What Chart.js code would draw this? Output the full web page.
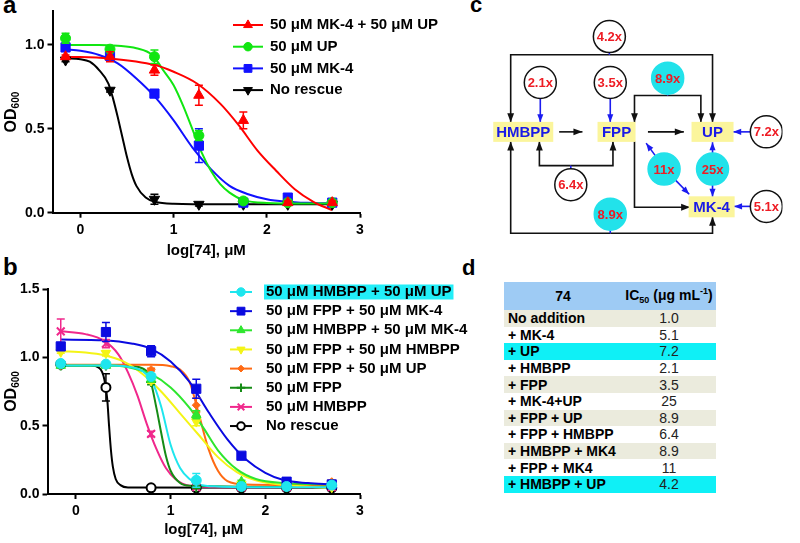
<!DOCTYPE html>
<html>
<head>
<meta charset="utf-8">
<script src="https://cdn.jsdelivr.net/npm/chart.js@4.4.1/dist/chart.umd.min.js"></script>
<style>
body { margin: 0; width: 800px; height: 543px; position: relative; background: #fff; overflow: hidden;
       font-family: "Liberation Sans", Arial, sans-serif; }
canvas { position: absolute; }
#chartA { left: 0; top: 0; }
#chartB { left: 0; top: 270px; }
#chartC { left: 460px; top: 0; }
.tag { position: absolute; font-weight: bold; line-height: 1; color: #000; }
#tblD { position: absolute; left: 504px; top: 282px; width: 212px; border-collapse: collapse; }
#tblD th { background: #9ecbf4; height: 28px; padding: 0; font-size: 14px; font-weight: bold; text-align: center; }
#tblD th:first-child { width: 118px; }
#tblD th sub, #tblD th sup { font-size: 9px; }
#tblD td { height: 16.6px; padding: 0; font-size: 14px; line-height: 16px; }
#tblD td:first-child { font-weight: bold; padding-left: 4px; }
#tblD td:last-child { text-align: center; color: #222; }
</style>
</head>
<body>
<div class="tag" style="left:3px;top:-7px;font-size:24px">a</div>
<div class="tag" style="left:3px;top:255px;font-size:24px">b</div>
<div class="tag" style="left:470px;top:-6px;font-size:22px">c</div>
<div class="tag" style="left:462px;top:257px;font-size:22px">d</div>
<canvas id="chartA" width="480" height="270"></canvas>
<canvas id="chartB" width="480" height="273"></canvas>
<canvas id="chartC" width="340" height="262"></canvas>
<table id="tblD"><thead><tr><th>74</th><th>IC<sub>50</sub> (μg mL<sup>-1</sup>)</th></tr></thead><tbody></tbody></table>
<script>
// log10 of drug 74 concentration (μM) used in both panels
const xLog = [-0.16, 0.317, 0.794, 1.271, 1.748, 2.225, 2.702];
const xTicks = [0, 1, 2, 3];
const yTicksA = [0, 0.5, 1.0];
const yTicksB = [0, 0.5, 1.0, 1.5];

// panel a: measured OD600 and error
const aMk4UpY = [0.93, 0.93, 0.85, 0.70, 0.55, 0.06, 0.06];
const aMk4UpErr = [0.01, 0.03, 0.03, 0.06, 0.05, 0.01, 0.01];
const aUpY = [1.04, 0.975, 0.93, 0.46, 0.07, 0.06, 0.06];
const aUpErr = [0.03, 0.02, 0.04, 0.03, 0.01, 0.01, 0.01];
const aMk4Y = [0.985, 0.935, 0.71, 0.40, 0.06, 0.09, 0.06];
const aMk4Err = [0.02, 0.02, 0.01, 0.10, 0.01, 0.01, 0.01];
const aNoneY = [0.91, 0.73, 0.08, 0.05, 0.05, 0.05, 0.05];
const aNoneErr = [0.01, 0.01, 0.03, 0.01, 0, 0, 0];

// panel a: fitted curves
const aMk4UpFitX = [-0.16, 0.3, 0.8, 1.0, 1.25, 1.5, 1.7, 1.9, 2.1, 2.3, 2.5, 2.7];
const aMk4UpFitY = [0.93, 0.92, 0.88, 0.84, 0.77, 0.65, 0.52, 0.37, 0.25, 0.14, 0.065, 0.015];
const aUpFitX = [-0.16, 0.2, 0.4, 0.6, 0.77, 0.9, 1.0, 1.1, 1.2, 1.3, 1.4, 1.5, 1.6, 1.75, 2.0, 2.4, 2.7];
const aUpFitY = [1.0, 1.0, 0.995, 0.98, 0.94, 0.84, 0.76, 0.64, 0.50, 0.36, 0.25, 0.17, 0.12, 0.075, 0.058, 0.055, 0.055];
const aMk4FitX = [-0.16, 0, 0.2, 0.4, 0.6, 0.8, 1.0, 1.2, 1.4, 1.6, 1.8, 2.0, 2.2, 2.5, 2.7];
const aMk4FitY = [0.975, 0.965, 0.94, 0.89, 0.80, 0.69, 0.55, 0.39, 0.26, 0.16, 0.11, 0.08, 0.066, 0.058, 0.055];
const aNoneFitX = [-0.16, 0, 0.1, 0.2, 0.3, 0.35, 0.4, 0.45, 0.5, 0.55, 0.6, 0.7, 0.8, 1.0, 1.5, 2.7];
const aNoneFitY = [0.92, 0.915, 0.90, 0.85, 0.77, 0.68, 0.57, 0.45, 0.33, 0.23, 0.16, 0.09, 0.065, 0.053, 0.05, 0.05];

// panel b: measured OD600 and error
const bHmbppUpY = [0.955, 0.95, 0.86, 0.10, 0.055, 0.055, 0.065];
const bHmbppUpErr = [0.02, 0.01, 0.02, 0.05, 0.01, 0.01, 0.01];
const bFppMk4Y = [1.08, 1.185, 1.045, 0.77, 0.28, 0.09, 0.07];
const bFppMk4Err = [0.01, 0.07, 0.04, 0.07, 0.01, 0.01, 0.01];
const bHmbppMk4Y = [0.94, 0.94, 0.84, 0.58, 0.09, 0.065, 0.065];
const bHmbppMk4Err = [0.01, 0.01, 0.02, 0.03, 0.01, 0.01, 0.01];
const bFppHmbppY = [1.04, 1.03, 0.83, 0.53, 0.07, 0.06, 0.05];
const bFppHmbppErr = [0.01, 0.02, 0.02, 0.03, 0.01, 0.01, 0.01];
const bFppUpY = [0.94, 0.94, 0.91, 0.65, 0.06, 0.06, 0.09];
const bFppUpErr = [0.01, 0.01, 0.01, 0.05, 0.01, 0.01, 0.01];
const bFppY = [0.94, 0.94, 0.82, 0.05, 0.05, 0.05, 0.05];
const bFppErr = [0.01, 0.01, 0.02, 0.01, 0, 0, 0];
const bHmbppY = [1.19, 1.10, 0.44, 0.05, 0.05, 0.05, 0.05];
const bHmbppErr = [0.09, 0.03, 0.02, 0.01, 0, 0, 0];
const bNoneY = [0.95, 0.78, 0.045, 0.045, 0.045, 0.045, 0.045];
const bNoneErr = [0.01, 0.10, 0.01, 0.01, 0, 0, 0];

// panel b: fitted curves
const bHmbppUpFitX = [-0.16, 0.4, 0.6, 0.7, 0.8, 0.9, 1.0, 1.1, 1.2, 1.3, 1.5, 2.0, 2.7];
const bHmbppUpFitY = [0.94, 0.94, 0.925, 0.90, 0.83, 0.64, 0.36, 0.19, 0.11, 0.07, 0.055, 0.05, 0.05];
const bFppMk4FitX = [-0.16, 0.3, 0.6, 0.8, 1.0, 1.2, 1.4, 1.6, 1.8, 2.0, 2.2, 2.45, 2.7];
const bFppMk4FitY = [1.13, 1.125, 1.10, 1.06, 0.97, 0.82, 0.60, 0.40, 0.25, 0.155, 0.10, 0.08, 0.07];
const bHmbppMk4FitX = [-0.16, 0.4, 0.6, 0.8, 1.0, 1.2, 1.35, 1.5, 1.7, 1.9, 2.2, 2.7];
const bHmbppMk4FitY = [0.94, 0.94, 0.92, 0.875, 0.78, 0.63, 0.48, 0.32, 0.18, 0.11, 0.08, 0.07];
const bFppHmbppFitX = [-0.16, 0.1, 0.3, 0.5, 0.7, 0.9, 1.1, 1.3, 1.5, 1.7, 1.9, 2.2, 2.7];
const bFppHmbppFitY = [1.045, 1.035, 1.015, 0.97, 0.88, 0.75, 0.59, 0.43, 0.27, 0.16, 0.10, 0.065, 0.045];
const bFppUpFitX = [-0.16, 0.8, 1.0, 1.1, 1.2, 1.3, 1.4, 1.5, 1.6, 1.8, 2.7];
const bFppUpFitY = [0.945, 0.945, 0.935, 0.91, 0.82, 0.58, 0.33, 0.17, 0.095, 0.07, 0.065];
const bFppFitX = [-0.16, 0.5, 0.7, 0.78, 0.85, 0.9, 0.95, 1.0, 1.1, 1.2, 2.7];
const bFppFitY = [0.94, 0.94, 0.92, 0.85, 0.63, 0.45, 0.28, 0.17, 0.08, 0.06, 0.05];
const bHmbppFitX = [-0.16, 0.1, 0.3, 0.45, 0.55, 0.65, 0.75, 0.85, 0.95, 1.05, 1.2, 1.5, 2.7];
const bHmbppFitY = [1.19, 1.17, 1.12, 1.02, 0.89, 0.72, 0.51, 0.33, 0.19, 0.11, 0.06, 0.05, 0.05];
const bNoneFitX = [-0.16, 0.15, 0.25, 0.3, 0.33, 0.35, 0.37, 0.39, 0.42, 0.47, 0.55, 2.7];
const bNoneFitY = [0.94, 0.94, 0.92, 0.84, 0.70, 0.50, 0.32, 0.20, 0.11, 0.065, 0.048, 0.045];

// panel d: IC50 of 74 with each rescue
const conditions = ['No addition', '+ MK-4', '+ UP', '+ HMBPP', '+ FPP', '+ MK-4+UP', '+ FPP + UP',
    '+ FPP + HMBPP', '+ HMBPP + MK4', '+ FPP + MK4', '+ HMBPP + UP'];
const ic50 = ['1.0', '5.1', '7.2', '2.1', '3.5', '25', '8.9', '6.4', '8.9', '11', '4.2'];

// panel c: metabolites and which condition each fold-change bubble shows
const metabolites = ['HMBPP', 'FPP', 'UP', 'MK-4'];
const bubbleConditions = [10, 3, 4, 6, 2, 7, 9, 5, 1, 8];

const FONT = '"Liberation Sans", Arial, sans-serif';
Chart.defaults.font.family = FONT;
Chart.defaults.color = '#000';

const pts = (xs, ys) => xs.map((x, i) => ({ x: x, y: ys[i] }));

function fitSet(color, xs, ys) {
    return {
        data: pts(xs, ys), showLine: true, borderColor: color, borderWidth: 2,
        pointRadius: 0, cubicInterpolationMode: 'monotone', order: 2
    };
}
function pointSet(label, color, ys, errs, style, radius, extra) {
    const ds = {
        label: label, data: pts(xLog, ys), errors: errs, showLine: false, order: 1,
        pointStyle: style, pointRadius: radius, pointHoverRadius: radius,
        pointBackgroundColor: color, pointBorderColor: color, pointBorderWidth: 1,
        errColor: color, legend: true, color: color
    };
    return Object.assign(ds, extra || {});
}

const errorBars = {
    id: 'errorBars',
    beforeDatasetDraw(chart, args) {
        const ds = chart.data.datasets[args.index];
        if (!ds.errors) return;
        const { ctx, scales: { x, y } } = chart;
        ctx.save();
        ctx.strokeStyle = ds.errColor;
        ctx.lineWidth = 1.5;
        ds.data.forEach((p, i) => {
            const e = ds.errors[i];
            if (!e) return;
            const px = x.getPixelForValue(p.x);
            const top = y.getPixelForValue(p.y + e);
            const bot = y.getPixelForValue(p.y - e);
            ctx.beginPath();
            ctx.moveTo(px, top); ctx.lineTo(px, bot);
            ctx.moveTo(px - 4, top); ctx.lineTo(px + 4, top);
            ctx.moveTo(px - 4, bot); ctx.lineTo(px + 4, bot);
            ctx.stroke();
        });
        ctx.restore();
    }
};

const lineLegend = {
    id: 'lineLegend',
    afterDraw(chart, args, o) {
        const ctx = chart.ctx;
        const items = chart.data.datasets.filter(d => d.legend);
        ctx.save();
        ctx.font = 'bold 15px ' + FONT;
        ctx.textBaseline = 'middle';
        items.forEach((d, i) => {
            const y = o.top + i * o.gap;
            if (d.highlight) {
                ctx.fillStyle = d.highlight;
                ctx.fillRect(o.textX - 2, y - 7.5, ctx.measureText(d.label).width + 4, 15);
            }
            ctx.strokeStyle = d.color;
            ctx.lineWidth = 2;
            ctx.beginPath();
            ctx.moveTo(o.x, y); ctx.lineTo(o.x + o.len, y);
            ctx.stroke();
            ctx.fillStyle = d.pointBackgroundColor;
            ctx.strokeStyle = d.pointBorderColor;
            ctx.lineWidth = d.pointBorderWidth;
            Chart.helpers.drawPoint(ctx, {
                pointStyle: d.pointStyle, radius: d.pointRadius * 0.85,
                rotation: d.pointRotation || 0, borderWidth: d.pointBorderWidth
            }, o.x + o.len / 2, y);
            ctx.fillStyle = '#000';
            ctx.fillText(d.label, o.textX, y);
        });
        ctx.restore();
    }
};

const axisTitles = {
    id: 'axisTitles',
    afterDraw(chart, args, o) {
        const { ctx, chartArea: ca } = chart;
        ctx.save();
        ctx.fillStyle = '#000';
        ctx.font = 'bold 15px ' + FONT;
        ctx.textAlign = 'center';
        ctx.textBaseline = 'middle';
        ctx.fillText(o.xText, (ca.left + ca.right) / 2, o.xTitleY);
        ctx.translate(o.yTitleX, (ca.top + ca.bottom) / 2);
        ctx.rotate(-Math.PI / 2);
        ctx.font = 'bold 16px ' + FONT;
        const w1 = ctx.measureText(o.yText).width;
        ctx.font = 'bold 10px ' + FONT;
        const w2 = ctx.measureText(o.ySub).width;
        const x0 = -(w1 + w2) / 2;
        ctx.textAlign = 'left';
        ctx.textBaseline = 'alphabetic';
        ctx.font = 'bold 16px ' + FONT;
        ctx.fillText(o.yText, x0, 6);
        ctx.font = 'bold 10px ' + FONT;
        ctx.fillText(o.ySub, x0 + w1, 9);
        ctx.restore();
    }
};

function doseOptions(yMax, yTicks, yWidth, xHeight, padTop, legend, titles) {
    const axisGrid = {
        display: true, drawOnChartArea: false, drawTicks: true,
        tickLength: 5, tickWidth: 2, tickColor: '#000'
    };
    return {
        responsive: false, animation: false, events: [],
        layout: { padding: { top: padTop, right: 120, left: 0, bottom: 0 } },
        scales: {
            x: {
                type: 'linear', min: -0.3, max: 3,
                afterBuildTicks: s => { s.ticks = xTicks.map(v => ({ value: v })); },
                afterFit: s => { s.height = xHeight; },
                grid: axisGrid,
                border: { display: true, width: 2, color: '#000' },
                ticks: { autoSkip: false, maxRotation: 0, padding: 4, font: { size: 14, weight: 'bold' },
                         callback: v => String(v) }
            },
            y: {
                type: 'linear', min: 0, max: yMax,
                afterBuildTicks: s => { s.ticks = yTicks.map(v => ({ value: v })); },
                afterFit: s => { s.width = yWidth; },
                grid: axisGrid,
                border: { display: true, width: 2, color: '#000' },
                ticks: { autoSkip: false, padding: 3, font: { size: 14, weight: 'bold' },
                         callback: v => v.toFixed(1) }
            }
        },
        plugins: { legend: { display: false }, tooltip: { enabled: false },
                   lineLegend: legend, axisTitles: titles }
    };
}

// ---- panel a ----
const aRed = '#ff0000', aGreen = '#11e611', aBlue = '#1111ff', aBlack = '#000000';
new Chart(document.getElementById('chartA'), {
    type: 'scatter',
    data: {
        datasets: [
            pointSet('50 μM MK-4 + 50 μM UP', aRed, aMk4UpY, aMk4UpErr, 'triangle', 6),
            pointSet('50 μM UP', aGreen, aUpY, aUpErr, 'circle', 5),
            pointSet('50 μM MK-4', aBlue, aMk4Y, aMk4Err, 'rect', 6.5),
            pointSet('No rescue', aBlack, aNoneY, aNoneErr, 'triangle', 6, { pointRotation: 180 }),
            fitSet(aRed, aMk4UpFitX, aMk4UpFitY),
            fitSet(aGreen, aUpFitX, aUpFitY),
            fitSet(aBlue, aMk4FitX, aMk4FitY),
            fitSet(aBlack, aNoneFitX, aNoneFitY)
        ]
    },
    options: doseOptions(1.2, yTicksA, 52.5, 57.3, 6.3,
        { x: 233, len: 30, textX: 270, top: 25, gap: 21.7 },
        { xText: 'log[74], μM', xTitleY: 251, yText: 'OD', ySub: '600', yTitleX: 10 }),
    plugins: [errorBars, lineLegend, axisTitles]
});

// ---- panel b ----
const bCyan = '#1ee6ee', bBlue = '#0a0ae0', bGreen = '#2ee62e', bYellow = '#f4f416',
      bOrange = '#ff6a13', bDkGreen = '#168c16', bPink = '#f0288c', bBlack = '#000000';
new Chart(document.getElementById('chartB'), {
    type: 'scatter',
    data: {
        datasets: [
            pointSet('50 μM HMBPP + 50 μM UP', bCyan, bHmbppUpY, bHmbppUpErr, 'circle', 5, { highlight: '#22eef8' }),
            pointSet('50 μM FPP + 50 μM MK-4', bBlue, bFppMk4Y, bFppMk4Err, 'rect', 6.5),
            pointSet('50 μM HMBPP + 50 μM MK-4', bGreen, bHmbppMk4Y, bHmbppMk4Err, 'triangle', 5.5),
            pointSet('50 μM FPP + 50 μM HMBPP', bYellow, bFppHmbppY, bFppHmbppErr, 'triangle', 5.5, { pointRotation: 180 }),
            pointSet('50 μM FPP + 50 μM UP', bOrange, bFppUpY, bFppUpErr, 'rectRot', 4),
            pointSet('50 μM FPP', bDkGreen, bFppY, bFppErr, 'cross', 5, { pointBorderWidth: 2 }),
            pointSet('50 μM HMBPP', bPink, bHmbppY, bHmbppErr, 'crossRot', 5.5, { pointBorderWidth: 2 }),
            pointSet('No rescue', bBlack, bNoneY, bNoneErr, 'circle', 4.5,
                { pointBackgroundColor: '#ffffff', pointBorderWidth: 2 }),
            fitSet(bCyan, bHmbppUpFitX, bHmbppUpFitY),
            fitSet(bBlue, bFppMk4FitX, bFppMk4FitY),
            fitSet(bGreen, bHmbppMk4FitX, bHmbppMk4FitY),
            fitSet(bYellow, bFppHmbppFitX, bFppHmbppFitY),
            fitSet(bOrange, bFppUpFitX, bFppUpFitY),
            fitSet(bDkGreen, bFppFitX, bFppFitY),
            fitSet(bPink, bHmbppFitX, bHmbppFitY),
            fitSet(bBlack, bNoneFitX, bNoneFitY)
        ]
    },
    options: doseOptions(1.5, yTicksB, 47.5, 49, 19,
        { x: 230, len: 22, textX: 266, top: 22, gap: 19.15 },
        { xText: 'log[74], μM', xTitleY: 260, yText: 'OD', ySub: '600', yTitleX: 10 }),
    plugins: [errorBars, lineLegend, axisTitles]
});

// ---- panel c: rescue diagram on a 340 x 262 unit grid ----
const boxLayout = [[51, 132, 60, 20], [155, 132, 38, 20], [262, 132, 42, 20], [261, 218.5, 46, 21]];
const bubbleLayout = [
    [147, 22, false], [70, 75, false], [148, 75, false], [212, 70, true], [322, 132, false],
    [104, 193, false], [208, 175, true], [262, 175, true], [322, 218, false], [148, 227, true]
];
const blackPaths = [
    [[147, 43], [37, 43], [37, 121]], [[147, 43], [262, 43], [262, 121]],
    [[91, 132], [117, 132]], [[190, 132], [230, 132]],
    [[212, 90], [175, 90], [175, 121]], [[212, 90], [249, 90], [249, 121]],
    [[104, 171], [69, 171], [69, 143]], [[104, 171], [151, 171], [151, 143]],
    [[175, 143], [175, 219], [237, 219]],
    [[148, 249], [37, 249], [37, 143]], [[148, 249], [262, 249], [262, 230]]
];
const bluePaths = [
    [[70, 91], [70, 121]], [[148, 91], [148, 121]], [[306, 132], [285, 132]], [[306, 218], [286, 218]],
    [[200, 162], [188, 145]], [[221, 188], [236, 204]], [[262, 159], [262, 144]], [[262, 191], [262, 207]]
];
const blueStubs = [[[147, 38], [147, 43]], [[212, 86], [212, 90]], [[104, 177], [104, 171]], [[148, 243], [148, 249]]];

const diagram = {
    id: 'diagram',
    beforeDatasetsDraw(chart) {
        const { ctx, scales: { x, y } } = chart;
        const P = p => [x.getPixelForValue(p[0]), y.getPixelForValue(p[1])];
        const path = (pp, color, width, head) => {
            const q = pp.map(P);
            ctx.strokeStyle = color; ctx.fillStyle = color; ctx.lineWidth = width;
            ctx.beginPath();
            ctx.moveTo(q[0][0], q[0][1]);
            q.slice(1).forEach(p => ctx.lineTo(p[0], p[1]));
            ctx.stroke();
            if (!head) return;
            const [x2, y2] = q[q.length - 1], [x1, y1] = q[q.length - 2];
            const a = Math.atan2(y2 - y1, x2 - x1);
            ctx.beginPath();
            ctx.moveTo(x2, y2);
            ctx.lineTo(x2 - head * Math.cos(a) + head * 0.38 * Math.sin(a), y2 - head * Math.sin(a) - head * 0.38 * Math.cos(a));
            ctx.lineTo(x2 - head * Math.cos(a) - head * 0.38 * Math.sin(a), y2 - head * Math.sin(a) + head * 0.38 * Math.cos(a));
            ctx.closePath();
            ctx.fill();
        };
        ctx.save();
        blackPaths.forEach(p => path(p, '#111', 1.6, 9));
        bluePaths.forEach(p => path(p, '#1b1bf0', 1.6, 8));
        blueStubs.forEach(p => path(p, '#1b1bf0', 1.6, 0));
        ctx.font = 'bold 15px ' + FONT;
        ctx.textAlign = 'center';
        ctx.textBaseline = 'middle';
        boxLayout.forEach((b, i) => {
            const [cx, cy] = P([b[0], b[1]]);
            ctx.fillStyle = '#fbf59c';
            ctx.fillRect(cx - b[2] / 2, cy - b[3] / 2, b[2], b[3]);
            ctx.fillStyle = '#1a1ae6';
            ctx.fillText(metabolites[i], cx, cy + 1);
        });
        ctx.restore();
    },
    afterDatasetsDraw(chart) {
        const { ctx, scales: { x, y } } = chart;
        ctx.save();
        ctx.font = 'bold 13px ' + FONT;
        ctx.textAlign = 'center';
        ctx.textBaseline = 'middle';
        ctx.fillStyle = '#ee1c24';
        chart.data.datasets[0].data.forEach(p => {
            ctx.fillText(p.label, x.getPixelForValue(p.x), y.getPixelForValue(p.y) + 1);
        });
        ctx.restore();
    }
};

new Chart(document.getElementById('chartC'), {
    type: 'scatter',
    data: {
        datasets: [{
            data: bubbleConditions.map((c, i) => ({
                x: bubbleLayout[i][0], y: bubbleLayout[i][1], label: ic50[c] + 'x'
            })),
            pointRadius: 16, pointHoverRadius: 16,
            pointBackgroundColor: bubbleLayout.map(b => b[2] ? '#22e2ea' : '#ffffff'),
            pointBorderColor: bubbleLayout.map(b => b[2] ? '#22e2ea' : '#111111'),
            pointBorderWidth: 1.5
        }]
    },
    options: {
        responsive: false, animation: false, events: [],
        layout: { padding: 0 },
        scales: {
            x: { type: 'linear', min: 0, max: 340, display: false },
            y: { type: 'linear', min: 0, max: 262, reverse: true, display: false }
        },
        plugins: { legend: { display: false }, tooltip: { enabled: false } }
    },
    plugins: [diagram]
});

// ---- panel d: table ----
const highlightRows = [2, 10];
const tbody = document.querySelector('#tblD tbody');
conditions.forEach((c, i) => {
    const tr = document.createElement('tr');
    tr.style.background = highlightRows.includes(i) ? '#0ff0f6' : (i % 2 === 0 ? '#ebebdd' : '#ffffff');
    const td1 = document.createElement('td');
    td1.textContent = c;
    const td2 = document.createElement('td');
    td2.textContent = ic50[i];
    tr.appendChild(td1);
    tr.appendChild(td2);
    tbody.appendChild(tr);
});
</script>
</body>
</html>
